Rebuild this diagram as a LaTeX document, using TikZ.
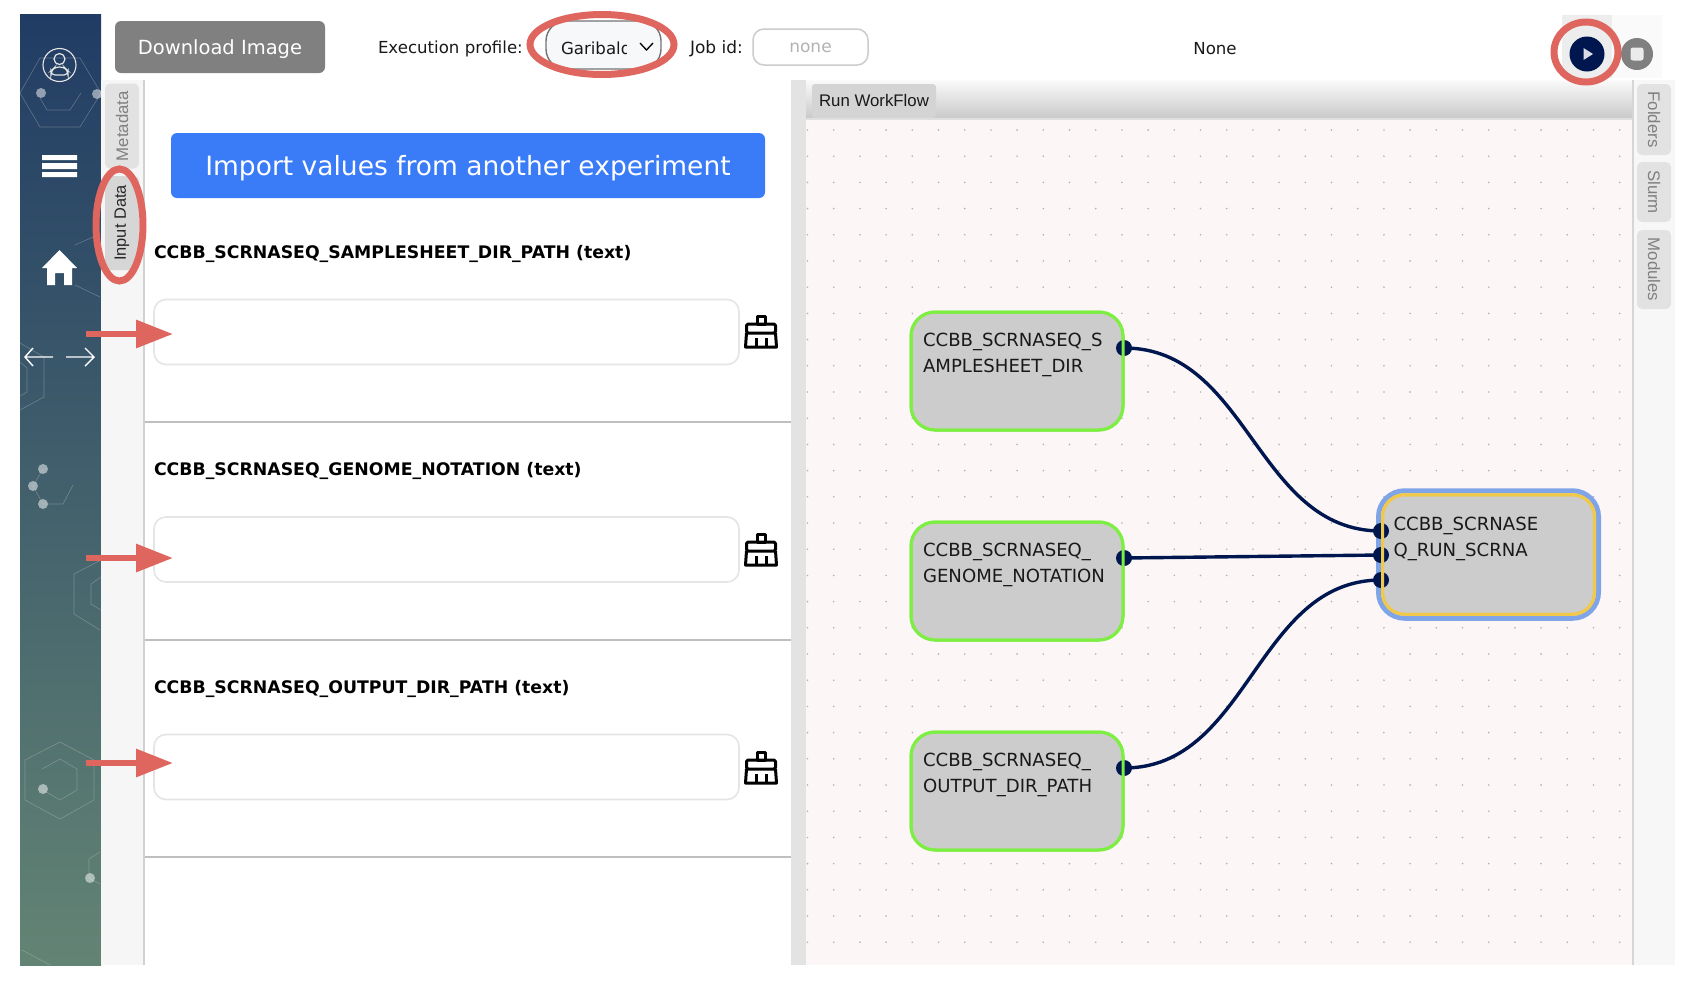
\documentclass[tikz,border=0pt]{standalone}
\usepackage{fontspec}
\setmainfont{DejaVu Sans}
\newfontfamily\hv{Liberation Sans}
\usetikzlibrary{arrows.meta,shapes.geometric}
\definecolor{redmark}{HTML}{DF665E}
\definecolor{navy}{HTML}{00164F}
\definecolor{tabgrey}{HTML}{E2E2E2}
\definecolor{tabtext}{HTML}{808080}
\definecolor{sidetop}{HTML}{213C64}
\definecolor{sidebot}{HTML}{638474}
\definecolor{blueb}{HTML}{3A7BF8}
\definecolor{canvasbg}{HTML}{FCF6F6}
\definecolor{bluerim}{HTML}{7FA5E8}
\definecolor{yellowrim}{HTML}{F0C94A}
\definecolor{greenrim}{HTML}{7DEE42}
\definecolor{selbg}{HTML}{F6F8FA}
\newcommand{\fs}[1]{\fontsize{#1}{#1}\selectfont}
\newcommand{\brushicon}[1]{%
  \begin{scope}[shift={#1},line width=3pt,black,line join=round]
    \draw (-4,-16) -- (4,-16) -- (4,-8) -- (-4,-8) -- cycle;
    \draw[rounded corners=1.5pt] (-14.5,-8) rectangle (14.5,1);
    \draw (-14.5,1) -- (-15.5,15) -- (15.5,15) -- (14.5,1);
    \draw (-5,6) -- (-5,15) (5,6) -- (5,15);
  \end{scope}}
\tikzset{
  x=1pt,y=-1pt,
  every node/.style={inner sep=0pt,outer sep=0pt},
  marker/.style={draw=redmark,line width=7pt},
  pointer/.style={draw=redmark,fill=redmark,line width=6pt,-{Triangle[length=37pt,width=27pt]}},
  inbox/.style={draw=black!10,line width=1.6pt,rounded corners=12pt,fill=white,minimum width=585pt,minimum height=65pt},
  field/.style={font=\bfseries\fs{17.3},anchor=base west,text=black},
  sep/.style={draw=black!25,line width=1.5pt},
  wfnode/.style={draw=greenrim,line width=3pt,rounded corners=24pt,fill=black!20,minimum width=212pt,minimum height=118pt,font=\fs{18.1},text=black!90},
  rim/.style={draw=greenrim,line width=3pt,rounded corners=24pt},
  port/.style={circle,fill=navy,minimum size=16pt},
  wire/.style={draw=navy,line width=3.4pt},
  vtab/.style={fill=tabgrey,rounded corners=5pt,minimum height=34pt,font=\hv\fs{16.8},text=tabtext},
  deco/.style={draw=white!60!gray,opacity=.35,line width=.6pt},
  ddot/.style={fill=white,opacity=.5},
  uitext/.style={font=\fs{16.6},text=black!90},
}
\begin{document}
\begin{tikzpicture}
\useasboundingbox (0,0) rectangle (1694,986);
\fill[white] (0,0) rectangle (1694,986);
% sidebar
\begin{scope}
  \clip (20,14) rectangle (101,965);
  \fill[top color=sidetop,bottom color=sidebot] (20,14) rectangle (101,965);
  \draw[deco] (20,93) -- (40,127) -- (80,127) -- (101,93) -- (80,58) -- (40,58) -- cycle;
  \draw[deco] (81,93) -- (70,110) -- (47,110) -- (40,98);
  \fill[ddot] (41,93) circle (5) (97,94) circle (5);
  \draw[deco] (75,245) -- (100,234) (75,285) -- (100,297);
  \draw[deco] (20,343) -- (44,357) -- (44,397) -- (20,410);
  \draw[deco] (20,362) -- (27,368) -- (27,392) -- (20,396);
  \fill[ddot] (43,469) circle (5) (33,486) circle (5) (43,504) circle (5);
  \draw[deco] (43,469) -- (33,486) -- (43,504) -- (63,504) -- (73,485);
  \draw[deco] (101,560) -- (74,574) -- (74,614) -- (100,630);
  \draw[deco] (101,577) -- (91,584) -- (91,604) -- (101,610);
  \draw[deco] (25,760) -- (60,742) -- (94,760) -- (94,800) -- (60,819) -- (25,800) -- cycle;
  \draw[deco] (42,769) -- (60,759) -- (77,769) -- (77,790) -- (60,800) -- (43,790);
  \fill[ddot] (43,789) circle (5);
  \draw[deco] (100,852) -- (89,859) -- (89,878) -- (100,884);
  \fill[ddot] (90,878) circle (5);
  \draw[deco] (22,950) -- (50,965);
\end{scope}
% sidebar icons
\draw[white!90!black,line width=1.1pt] (59.5,65) circle (16.5);
\draw[white!90!black,line width=1.2pt] (59.5,59) circle (5.5);
\draw[white!90!black,line width=1.2pt,rounded corners=4pt] (51,75) -- (51,71) -- (55,67) -- (64,67) -- (68,71) -- (68,75) -- cycle;
\fill[white] (42,155) rectangle (77,160) (42,163) rectangle (77,169) (42,172) rectangle (77,177);
\fill[white] (59.5,250) -- (77,268) -- (72,268) -- (72,285) -- (64,285) -- (64,273) -- (55,273) -- (55,285) -- (47,285) -- (47,268) -- (42,268) -- cycle;
\draw[white,line width=1.4pt,line join=miter] (33,348) -- (25,357) -- (33,366) (25,357) -- (53,357);
\draw[white,line width=1.4pt,line join=miter] (85,348) -- (94,357) -- (85,366) (94,357) -- (66,357);
% left tab strip
\fill[black!3.5] (101,80) rectangle (143,965);
\fill[black!18] (143,80) rectangle (145,965);
\node[vtab,minimum width=85pt,rotate=90] (tabmeta) at (122,126) {Metadata};
\node[vtab,fill=black!16,minimum width=94pt,rotate=90,font=\hv\fs{16.4},text=black!85] (tabinput) at (122,223) {\raisebox{-1pt}{Input Data}};
% header
\node[fill=black!50,rounded corners=6pt,minimum width=210pt,minimum height=52pt,text=white,font=\fs{19.5}] (dl) at (220,47) {\raisebox{-7pt}[0pt][0pt]{Download Image}};
\node[uitext,anchor=base west] (exec) at (378,53) {Execution profile:};
\draw[draw=black!55,fill=selbg,line width=1.4pt,rounded corners=20pt] (546,21) rectangle (661,69);
\begin{scope}
  \clip (555,25) rectangle (626,65);
  \node[uitext,anchor=base west] (prof) at (561,54) {Garibaldi};
\end{scope}
\draw[black,line width=1.3pt] (640,43) -- (646.5,50) -- (653,43);
\node[uitext,font=\fs{17},anchor=base west] (job) at (690,53) {Job id:};
\node[draw=black!20,line width=1.5pt,rounded corners=11pt,minimum width=115pt,minimum height=36pt,font=\fs{17},text=black!30] (jobbox) at (810.5,47) {\raisebox{-5.7pt}[0pt][0pt]{none}};
\node[uitext] (nonetxt) at (1215,47) {\raisebox{-7pt}[0pt][0pt]{None}};
% play and stop
\fill[black!7] (1562,15) rectangle (1612,78);
\fill[black!2] (1612,15) rectangle (1662,78);
\node[circle,fill=navy,minimum size=35pt] (play) at (1587,54) {};
\fill[white!85!navy] (1583.5,48) -- (1593,54) -- (1583.5,60) -- cycle;
\node[circle,fill=black!50,minimum size=32pt] (stopb) at (1637,54) {};
\fill[white!92!black,rounded corners=2.5pt] (1630.5,47.5) rectangle (1643.5,60.5);
% form
\node[fill=blueb,rounded corners=6pt,minimum width=594pt,minimum height=65pt,text=white,font=\fs{26.5}] (imp) at (468,165.5) {\raisebox{-9.5pt}[0pt][0pt]{Import values from another experiment}};
\node[field] (f1) at (154,258) {CCBB\_SCRNASEQ\_SAMPLESHEET\_DIR\_PATH (text)};
\node[field] (f2) at (154,475.5) {CCBB\_SCRNASEQ\_GENOME\_NOTATION (text)};
\node[field] (f3) at (154,693.5) {CCBB\_SCRNASEQ\_OUTPUT\_DIR\_PATH (text)};
\node[inbox] (i1) at (446.5,332) {};
\node[inbox] (i2) at (446.5,549.5) {};
\node[inbox] (i3) at (446.5,767) {};
\brushicon{(761,332)}
\brushicon{(761,550)}
\brushicon{(761,768)}
\draw[sep] (145,422) -- (791,422);
\draw[sep] (145,640) -- (791,640);
\draw[sep] (145,857) -- (791,857);
% workflow canvas
\fill[black!11] (791,80) rectangle (806,965);
\fill[canvasbg] (806,119) rectangle (1632,965);
\foreach \i in {0,...,31}{\foreach \j in {0,...,31}{
  \fill[black!30] (807.5+\i*26.2,130+\j*26.2) circle (.9);}}
\fill[top color=black!2,bottom color=black!21] (806,80) rectangle (1632,118);
\fill[black!12] (806,118) rectangle (1632,120);
\node[fill=black!17,rounded corners=3pt,minimum width=124pt,minimum height=34pt,font=\hv\fs{16.8},text=black!90] (runtab) at (874,101) {\raisebox{1pt}{Run WorkFlow}};
% right strip
\fill[black!3] (1633,80) rectangle (1675,965);
\fill[black!16] (1632,80) rectangle (1634,965);
\node[vtab,minimum width=71pt,rotate=-90] (tabf) at (1654,119.5) {Folders};
\node[vtab,minimum width=60pt,rotate=-90] (tabs) at (1654,192) {Slurm};
\node[vtab,minimum width=79pt,rotate=-90] (tabm) at (1654,269.5) {Modules};
% nodes
\node[wfnode] (n1) at (1017,371) {\parbox[c][118pt][t]{188pt}{\vspace{21pt}\baselineskip=26pt CCBB\_SCRNASEQ\_S\\AMPLESHEET\_DIR}};
\node[wfnode] (n2) at (1017,581) {\parbox[c][118pt][t]{188pt}{\vspace{21pt}\baselineskip=26pt CCBB\_SCRNASEQ\_\\GENOME\_NOTATION}};
\node[wfnode] (n3) at (1017,791) {\parbox[c][118pt][t]{188pt}{\vspace{21pt}\baselineskip=26pt CCBB\_SCRNASEQ\_\\OUTPUT\_DIR\_PATH}};
\node[draw=bluerim,line width=5pt,rounded corners=26pt,minimum width=220pt,minimum height=127.5pt] (n4o) at (1488.5,554.5) {};
\node[wfnode,draw=yellowrim,minimum width=212pt,minimum height=119.5pt,rounded corners=22pt] (n4) at (1488.5,554.5) {\parbox[c][119.5pt][t]{190pt}{\vspace{22pt}\baselineskip=26pt CCBB\_SCRNASE\\Q\_RUN\_SCRNA}};
\node[port] (o1) at (1124,348) {};
\node[port] (o2) at (1124,558) {};
\node[port] (o3) at (1124,768) {};
\node[port] (a1) at (1381,531) {};
\node[port] (a2) at (1381,555) {};
\node[port] (a3) at (1381,580) {};
\draw[wire] (o1.center) .. controls +(125,0) and +(-125,0) .. (a1.center);
\draw[wire] (o2.center) -- (a2.center);
\draw[wire] (o3.center) .. controls +(125,0) and +(-125,0) .. (a3.center);
\draw[rim] (n1.south west) rectangle (n1.north east);
\draw[rim] (n2.south west) rectangle (n2.north east);
\draw[rim] (n3.south west) rectangle (n3.north east);
\draw[rim,draw=yellowrim,rounded corners=22pt] (n4.south west) rectangle (n4.north east);
% annotations
\node[ellipse,marker,minimum width=144pt,minimum height=60pt] (m1) at (602,44.5) {};
\node[ellipse,marker,minimum width=47pt,minimum height=112pt] (m2) at (119.5,225) {};
\node[ellipse,marker,minimum width=64pt,minimum height=60pt] (m3) at (1586,52) {};
\coordinate (s1) at (86,334); \coordinate (e1) at (173,334);
\coordinate (s2) at (86,558); \coordinate (e2) at (173,558);
\coordinate (s3) at (86,763); \coordinate (e3) at (173,763);
\draw[pointer] (s1) -- (e1);
\draw[pointer] (s2) -- (e2);
\draw[pointer] (s3) -- (e3);
\end{tikzpicture}
\end{document}
